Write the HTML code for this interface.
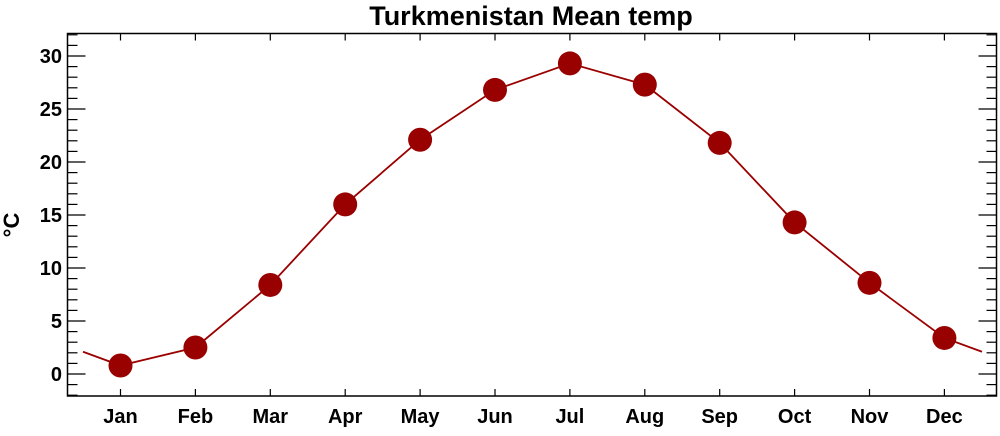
<!DOCTYPE html>
<html><head><meta charset="utf-8"><style>html,body{margin:0;padding:0;background:#fff}</style></head>
<body>
<svg width="1000" height="431" viewBox="0 0 1000 431" xmlns="http://www.w3.org/2000/svg" font-family="Liberation Sans, sans-serif" font-weight="bold">
<text x="531" y="25" font-size="27" text-anchor="middle">Turkmenistan Mean temp</text>
<rect x="67.5" y="33.5" width="929" height="362.5" fill="none" stroke="#000" stroke-width="1.5"/>
<g stroke="#000" stroke-width="1.2" id="ticks"></g>
<g font-size="20" text-anchor="end" id="ylab"></g>
<g font-size="20" text-anchor="middle" id="xlab"></g>
<text transform="translate(19,225) rotate(-90)" font-size="22" text-anchor="middle">°C</text>
<polyline id="line" fill="none" stroke="#9a0000" stroke-width="1.8"/>
<g id="dots" fill="#990000"></g>
<script>
var ns="http://www.w3.org/2000/svg";
function Y(v){return 374-v*10.6;}
function X(i){return 120.5+i*74.9;}
var t=document.getElementById('ticks'),yl=document.getElementById('ylab'),xl=document.getElementById('xlab');
function ln(x1,y1,x2,y2){var l=document.createElementNS(ns,'line');l.setAttribute('x1',x1);l.setAttribute('y1',y1);l.setAttribute('x2',x2);l.setAttribute('y2',y2);t.appendChild(l);}
for(var v=-2;v<=32;v++){var y=Y(v),L=(v%5==0)?18:10;ln(67.5,y,67.5+L,y);ln(996.5,y,996.5-L,y);
 if(v%5==0&&v>=0){var tx=document.createElementNS(ns,'text');tx.setAttribute('x',62);tx.setAttribute('y',y+7);tx.textContent=v;yl.appendChild(tx);}}
var m=['Jan','Feb','Mar','Apr','May','Jun','Jul','Aug','Sep','Oct','Nov','Dec'];
var d=[0.8,2.5,8.4,16.0,22.1,26.8,29.3,27.3,21.8,14.3,8.6,3.4];
var pts=[[83,Y(2.1)]];
for(var i=0;i<12;i++){var x=X(i);ln(x,396,x,389);ln(x,33.5,x,40.5);
 var tx=document.createElementNS(ns,'text');tx.setAttribute('x',x);tx.setAttribute('y',423);tx.textContent=m[i];xl.appendChild(tx);
 pts.push([x,Y(d[i])]);
 var c=document.createElementNS(ns,'circle');c.setAttribute('cx',x);c.setAttribute('cy',Y(d[i]));c.setAttribute('r',12);document.getElementById('dots').appendChild(c);}
pts.push([982,Y(2.1)]);
document.getElementById('line').setAttribute('points',pts.map(function(p){return p.join(',')}).join(' '));
</script>
</svg>
</body></html>
